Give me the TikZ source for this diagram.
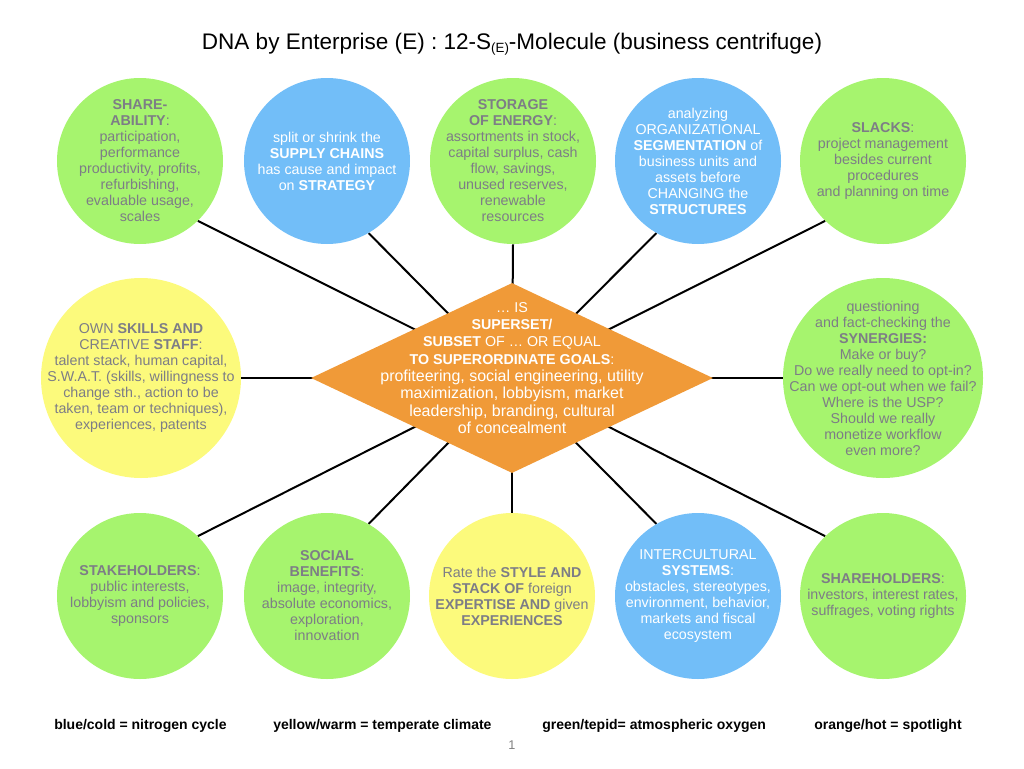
\documentclass[tikz,border=0pt]{standalone}
\usepackage{fontspec}
\setmainfont{Liberation Sans}
\usetikzlibrary{shapes.geometric}
\pgfdeclarelayer{wires}
\pgfsetlayers{wires,main}
\definecolor{leaf}{HTML}{A6F46E}
\definecolor{sky}{HTML}{72BEF8}
\definecolor{sun}{HTML}{FCFA7C}
\definecolor{amber}{HTML}{F09A38}
\definecolor{ink}{HTML}{7D7D86}
\begin{document}
\begin{tikzpicture}[x=0.75pt,y=-0.75pt,
  blob/.style={circle,inner sep=0pt,minimum size=124.5pt},
  bigblob/.style={circle,inner sep=0pt,minimum size=150pt},
  txt/.style={align=center,inner sep=0pt,font=\fontsize{10.7}{12}\selectfont},
  dark/.style={txt,text=ink},
  light/.style={txt,text=white},
  wire/.style={line width=1.5pt,black},
  legend/.style={anchor=west,inner sep=0pt,font=\bfseries\fontsize{10.5}{12}\selectfont}]
\useasboundingbox (0,0) rectangle (1024,768);

% title
\node[font=\fontsize{16.9}{20}\selectfont] (title) at (512,44)
  {DNA by Enterprise (E) : 12-S\raisebox{-0.25ex}{\fontsize{10}{10}\selectfont(E)}-Molecule (business centrifuge)};

% top row
\node[blob,fill=leaf] (c1) at (140,161) {};
\node[dark] (t1) at (c1) {\textbf{SHARE-}\\\textbf{ABILITY}:\\participation,\\performance\\productivity, profits,\\refurbishing,\\evaluable usage,\\scales};
\node[blob,fill=sky] (c2) at (327,161) {};
\node[light] (t2) at (c2) {split or shrink the\\\textbf{SUPPLY CHAINS}\\has cause and impact\\on \textbf{STRATEGY}};
\node[blob,fill=leaf] (c3) at (513,161) {};
\node[dark] (t3) at (c3) {\textbf{STORAGE}\\\textbf{OF ENERGY}:\\assortments in stock,\\capital surplus, cash\\flow, savings,\\unused reserves,\\renewable\\resources};
\node[blob,fill=sky] (c4) at (698,161) {};
\node[light] (t4) at (c4) {analyzing\\ORGANIZATIONAL\\\textbf{SEGMENTATION} of\\business units and\\assets before\\CHANGING the\\\textbf{STRUCTURES}};
\node[blob,fill=leaf] (c5) at (883,161) {};
\node[dark] (t5) at (c5) {\textbf{SLACKS}:\\project management\\besides current\\procedures\\and planning on time};

% middle row
\node[bigblob,fill=sun] (c6) at (141,378) {};
\node[dark] (t6) at (c6) {OWN \textbf{SKILLS AND}\\CREATIVE \textbf{STAFF}:\\talent stack, human capital,\\S.W.A.T. (skills, willingness to\\change sth., action to be\\taken, team or techniques),\\experiences, patents};
\node[bigblob,fill=leaf] (c7) at (883,378) {};
\node[dark] (t7) at (c7) {questioning\\and fact-checking the\\\textbf{SYNERGIES:}\\Make or buy?\\Do we really need to opt-in?\\Can we opt-out when we fail?\\Where is the USP?\\Should we really\\monetize workflow\\even more?};

% centre
\node[diamond,fill=amber,inner sep=0pt,minimum width=301.5pt,minimum height=142.5pt] (d) at (512,378) {};
\node[light,font=\fontsize{12}{13}\selectfont] (dt) at (512,368)
  {{\fontsize{10.7}{12}\selectfont … IS}\\
   {\fontsize{10.7}{12}\selectfont\textbf{SUPERSET/}}\\
   {\fontsize{10.7}{12}\selectfont\textbf{SUBSET} OF … OR EQUAL}\\
   {\fontsize{10.7}{12}\selectfont\textbf{TO SUPERORDINATE GOALS}:}\\
   profiteering, social engineering, utility\\
   maximization, lobbyism, market\\
   leadership, branding, cultural\\
   of concealment};

% bottom row
\node[blob,fill=leaf] (c8) at (140,596) {};
\node[dark] (t8) at (c8) {\textbf{STAKEHOLDERS}:\\public interests,\\lobbyism and policies,\\sponsors};
\node[blob,fill=leaf] (c9) at (327,596) {};
\node[dark] (t9) at (c9) {\textbf{SOCIAL}\\\textbf{BENEFITS}:\\image, integrity,\\absolute economics,\\exploration,\\innovation};
\node[blob,fill=sun] (c10) at (512,596) {};
\node[dark] (t10) at (c10) {Rate the \textbf{STYLE AND}\\\textbf{STACK OF} foreign\\\textbf{EXPERTISE AND} given\\\textbf{EXPERIENCES}};
\node[blob,fill=sky] (c11) at (698,596) {};
\node[light] (t11) at (c11) {INTERCULTURAL\\\textbf{SYSTEMS}:\\obstacles, stereotypes,\\environment, behavior,\\markets and fiscal\\ecosystem};
\node[blob,fill=leaf] (c12) at (883,596) {};
\node[dark] (t12) at (c12) {\textbf{SHAREHOLDERS}:\\investors, interest rates,\\suffrages, voting rights};

% spokes from the centre
\begin{pgfonlayer}{wires}
\draw[wire] (d.center) -- (c1.-46);
\draw[wire] (d.center) -- (c2.-60);
\draw[wire] (d.center) -- (c3.-90);
\draw[wire] (d.center) -- (c4.-120);
\draw[wire] (d.center) -- (c5.-134);
\draw[wire] (d.center) -- (c6.0);
\draw[wire] (d.center) -- (c7.180);
\draw[wire] (d.center) -- (c8.46);
\draw[wire] (d.center) -- (c9.60);
\draw[wire] (d.center) -- (c10.90);
\draw[wire] (d.center) -- (c11.120);
\draw[wire] (d.center) -- (c12.134);
\end{pgfonlayer}

% legend
\node[legend] (k1) at (54,726) {blue/cold = nitrogen cycle};
\node[legend] (k2) at (273,726) {yellow/warm = temperate climate};
\node[legend] (k3) at (542,726) {green/tepid= atmospheric oxygen};
\node[legend] (k4) at (814,726) {orange/hot = spotlight};
\node[text=gray,font=\fontsize{9.5}{11}\selectfont] (pg) at (512,745) {1};
\end{tikzpicture}
\end{document}
